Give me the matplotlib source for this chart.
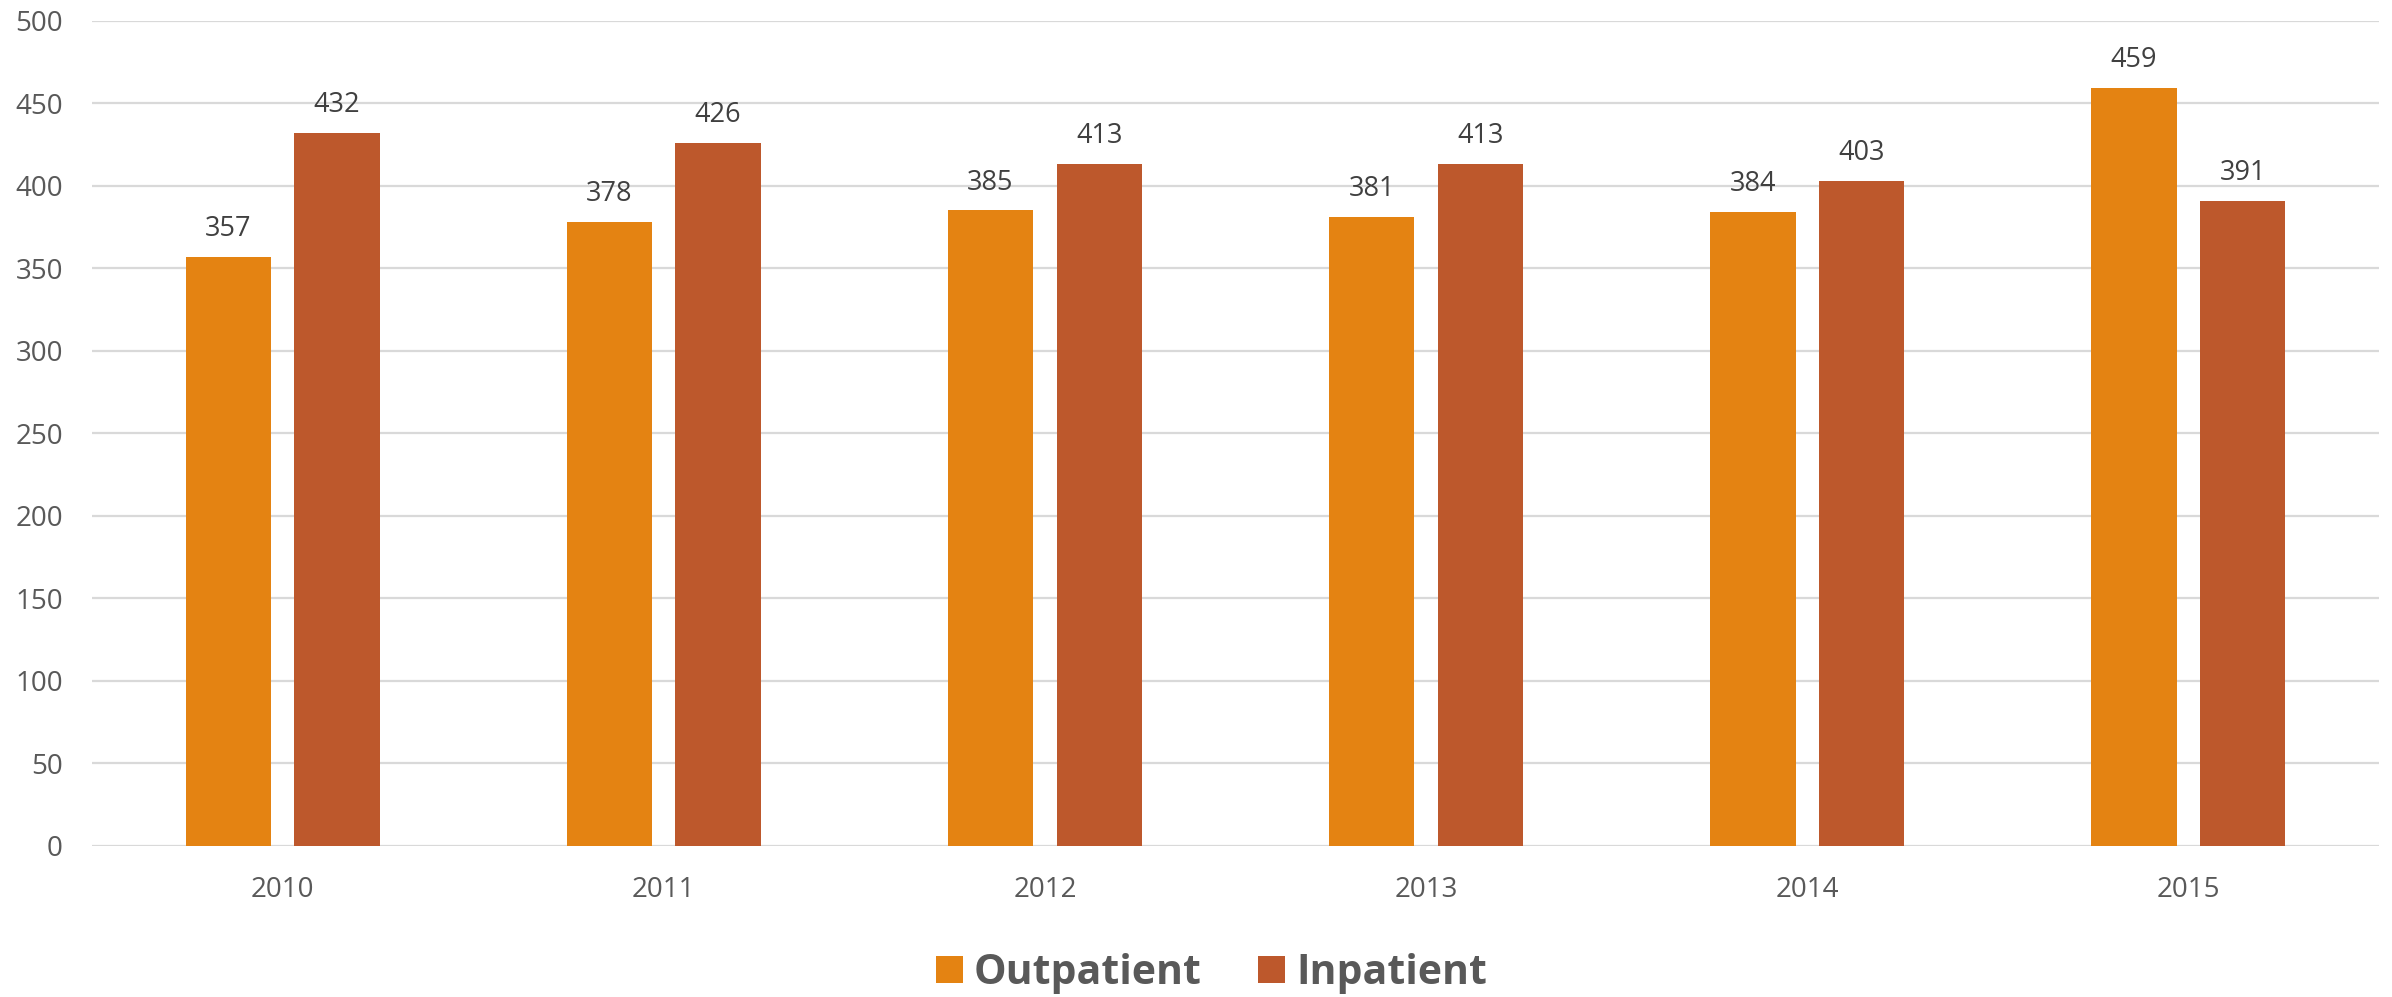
import matplotlib
matplotlib.use("Agg")
import matplotlib.pyplot as plt
import numpy as np

years = ["2010", "2011", "2012", "2013", "2014", "2015"]
outpatient = [357, 378, 385, 381, 384, 459]
inpatient = [432, 426, 413, 413, 403, 391]
series_names = ["Outpatient", "Inpatient"]
colors = ["#E48312", "#BD582C"]
yticks = [0, 50, 100, 150, 200, 250, 300, 350, 400, 450, 500]

plt.rcParams['font.family'] = ['Open Sans', 'DejaVu Sans']

fig = plt.figure(figsize=(23.92, 9.97), dpi=100)
ax = fig.add_axes([92/2392, 1 - 845.7/997, (2379 - 92)/2392, (845.7 - 20.7)/997])

x = np.arange(len(years))
w = 0.224
off = 0.1426
b1 = ax.bar(x - off, outpatient, w, color=colors[0], label=series_names[0], zorder=3)
b2 = ax.bar(x + off, inpatient, w, color=colors[1], label=series_names[1], zorder=3)

for bars, vals in ((b1, outpatient), (b2, inpatient)):
    for rect, v in zip(bars, vals):
        ax.annotate(str(v), (rect.get_x() + rect.get_width() / 2, v),
                    xytext=(0, 10), textcoords="offset points",
                    ha="center", va="bottom", fontsize=19.5, color="#404040")

ax.set_xlim(-0.5, len(years) - 0.5)
ax.set_ylim(0, 500)
ax.set_yticks(yticks)
ax.set_xticks(x)
ax.set_xticklabels(years)
ax.tick_params(axis='both', length=0, labelsize=20, labelcolor="#595959")
ax.tick_params(axis='y', pad=21)
ax.tick_params(axis='x', pad=22)
ax.grid(axis='y', color="#D9D9D9", linewidth=1.6, zorder=0)
for s in ax.spines.values():
    s.set_visible(False)

leg = fig.legend(handles=[b1, b2], labels=series_names, loc="center",
                 bbox_to_anchor=(1211.5/2392, 1 - 973/997), ncol=2, frameon=False,
                 prop={'family': ['Open Sans', 'DejaVu Sans'], 'weight': 'bold', 'size': 29.5},
                 handlelength=0.66, handleheight=0.64, handletextpad=0.27,
                 columnspacing=1.37, borderaxespad=0, borderpad=0)
for t in leg.get_texts():
    t.set_color("#595959")

fig.savefig("out.png", dpi=100)
